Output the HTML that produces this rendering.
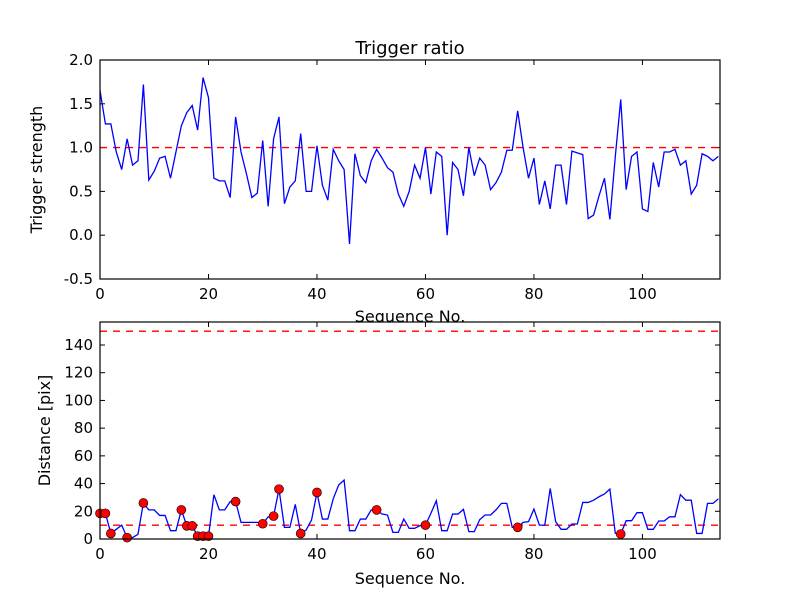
<!DOCTYPE html>
<html><head><meta charset="utf-8"><style>
body{margin:0;background:#fff}
svg{display:block;font-family:"DejaVu Sans","Liberation Sans",sans-serif}
</style></head><body>
<svg id="chart" width="800" height="600" viewBox="0 0 800 600" xmlns="http://www.w3.org/2000/svg"></svg>
<script>
const strength = [1.65,1.27,1.27,0.95,0.75,1.1,0.8,0.85,1.72,0.63,0.73,0.88,0.9,0.65,0.95,1.25,1.4,1.48,1.2,1.8,1.57,0.65,0.62,0.62,0.43,1.35,0.95,0.7,0.43,0.48,1.08,0.33,1.1,1.35,0.36,0.55,0.62,1.16,0.5,0.5,1.02,0.57,0.4,0.98,0.85,0.75,-0.1,0.93,0.68,0.6,0.85,0.98,0.88,0.77,0.72,0.47,0.33,0.5,0.8,0.65,1.0,0.47,0.95,0.9,0.0,0.83,0.75,0.45,1.0,0.68,0.88,0.8,0.52,0.6,0.72,0.97,0.97,1.42,1.0,0.65,0.88,0.35,0.62,0.3,0.8,0.8,0.35,0.96,0.94,0.92,0.19,0.23,0.45,0.65,0.18,0.9,1.55,0.52,0.9,0.95,0.3,0.27,0.83,0.55,0.95,0.95,0.98,0.8,0.85,0.47,0.57,0.93,0.9,0.85,0.9];
const distance = [18.5,18.5,4,7,10,1,1,3.4,26,21,21,17,17,6,6,21,9.5,9.5,2,2,2,32,21,21,27,27,12,12,12,12,11,16,16.5,36,8.4,8.4,25,4,6.5,13.7,33.6,14.4,14.4,29,39,42.5,6,6,14.4,14.4,21,21,18,17.3,4.8,4.8,14.4,7.7,7.7,9.6,10,18.5,27.6,6,6,18,18,21.4,5.3,5.3,14,17.3,17.3,21,25.7,25.7,8.4,8.4,12,12.5,21.6,10,10,36.5,12.5,7,7,10.8,10.8,26.4,26.4,28,30.5,32.5,36,4,3.6,13.2,13.2,19,19,7,7,13,13,16,16,32,28,28,4,4,25.7,25.7,29];
const markerIdx = [0,1,2,5,8,15,16,17,18,19,20,25,30,32,33,37,40,51,60,77,96];
const xTicks = [0,20,40,60,80,100];
const topYTicks = [-0.5,0,0.5,1.0,1.5,2.0];
const botYTicks = [0,20,40,60,80,100,120,140];
const topThreshold = [1.0];
const botThresholds = [10,150];

const svg = document.getElementById('chart');
const NS = 'http://www.w3.org/2000/svg';
function mk(tag, attrs, parent){const e=document.createElementNS(NS,tag);for(const k in attrs)e.setAttribute(k,attrs[k]);(parent||svg).appendChild(e);return e;}
const L=100,R=720,XMAX=114.3;
const xs=v=>L+(R-L)*v/XMAX;
const T1=60,B1=279,y1=v=>B1-(B1-T1)*(v+0.5)/2.5;
const T2=322,B2=539,y2=v=>B2-(B2-T2)*v/156.6;

let t=mk('text',{x:410,y:54,'text-anchor':'middle','font-size':18});t.textContent='Trigger ratio';



function axes(T,B,ys,yticks,fmt,name,ylabel,ylx){
  const g=mk('g',{});
  
  
  mk('rect',{x:L,y:T,width:R-L,height:B-T,fill:'#fff'},g);
  for(const v of xTicks){const x=xs(v);
    mk('line',{x1:x,x2:x,y1:B,y2:B-5,stroke:'#000'},g);mk('line',{x1:x,x2:x,y1:T,y2:T+5,stroke:'#000'},g);
    const tx=mk('text',{x:x,y:B+20,'text-anchor':'middle','font-size':15},g);tx.textContent=v;
    
    }
  for(const v of yticks){const y=ys(v);
    mk('line',{x1:L,x2:L+5,y1:y,y2:y,stroke:'#000'},g);mk('line',{x1:R,x2:R-5,y1:y,y2:y,stroke:'#000'},g);
    const ty=mk('text',{x:L-7,y:y+5,'text-anchor':'end','font-size':15},g);ty.textContent=fmt(v);
    
    }
  const yl=mk('text',{x:ylx,y:(T+B)/2,'text-anchor':'middle','font-size':16,transform:`rotate(-90 ${ylx} ${(T+B)/2})`},g);yl.textContent=ylabel;
  
  
  return g;
}
function frame(T,B){const f=mk('rect',{x:L,y:T,width:R-L,height:B-T,fill:'none',stroke:'#000','stroke-width':1.2});
  
  }
function clip(id,T,B){const d=mk('defs',{});const c=mk('clipPath',{id:id},d);mk('rect',{x:L,y:T,width:R-L,height:B-T},c);}

axes(T1,B1,y1,topYTicks,v=>v.toFixed(1),'top-axes','Trigger strength',42);
clip('c1',T1,B1);
for(const v of topThreshold){const l=mk('line',{x1:L,x2:R,y1:y1(v),y2:y1(v),stroke:'#f00','stroke-width':1.4,'stroke-dasharray':'7,6','clip-path':'url(#c1)'});
  
  }
let p=mk('polyline',{points:strength.map((v,i)=>xs(i)+','+y1(v)).join(' '),fill:'none',stroke:'#00f','stroke-width':1.3,'clip-path':'url(#c1)'});


frame(T1,B1);
let xl1=mk('text',{x:410,y:322,'text-anchor':'middle','font-size':16});xl1.textContent='Sequence No.';



axes(T2,B2,y2,botYTicks,v=>v,'bottom-axes','Distance [pix]',50);
clip('c2',T2,B2);
for(const v of botThresholds){const l=mk('line',{x1:L,x2:R,y1:y2(v),y2:y2(v),stroke:'#f00','stroke-width':1.4,'stroke-dasharray':'7,6','clip-path':'url(#c2)'});
  
  }
p=mk('polyline',{points:distance.map((v,i)=>xs(i)+','+y2(v)).join(' '),fill:'none',stroke:'#00f','stroke-width':1.3,'clip-path':'url(#c2)'});


for(const i of markerIdx){const c=mk('circle',{cx:xs(i),cy:y2(distance[i]),r:4.5,fill:'#f00',stroke:'#000','stroke-width':0.6});
  
  }
frame(T2,B2);
let xl2=mk('text',{x:410,y:584,'text-anchor':'middle','font-size':16});xl2.textContent='Sequence No.';


</script>
</body></html>
